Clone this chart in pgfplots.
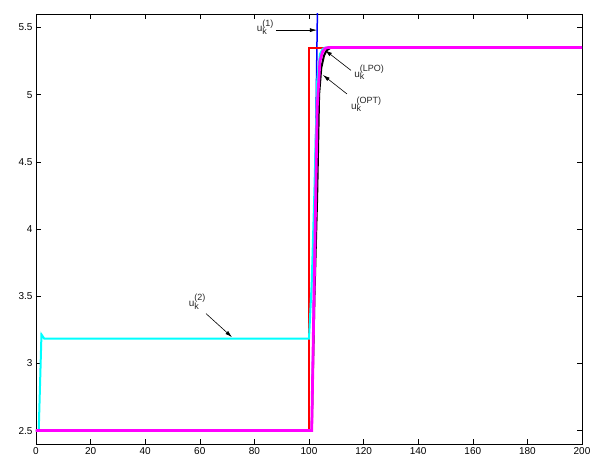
\documentclass[border=0pt]{standalone}
\usepackage{fontspec}
\setmainfont{Liberation Sans}
\usepackage{pgfplots}
\pgfplotsset{compat=1.18}
\usetikzlibrary{arrows.meta}
\definecolor{mcyan}{RGB}{0,255,255}
\definecolor{mmag}{RGB}{255,0,255}
\definecolor{mred}{RGB}{255,0,0}
\definecolor{mblue}{RGB}{0,0,255}
\newcommand\ulab[1]{u\makebox[0pt][l]{\raisebox{-0.55ex}{\fontsize{9}{9}\selectfont k}}\raisebox{1.05ex}{\fontsize{9}{9}\selectfont(#1)}}
\begin{document}
\begin{tikzpicture}
\begin{axis}[
  at={(0,0)}, anchor=south west,
  scale only axis, width=546pt, height=430pt,
  xmin=0, xmax=200, ymin=2.4, ymax=5.6,
  xtick={0,20,40,60,80,100,120,140,160,180,200},
  ytick={2.5,3,3.5,4,4.5,5,5.5},
  yticklabels={2.5,3,3.5,4,4.5,5,5.5},
  tick align=inside, major tick length=5pt,
  tick style={black, line width=0.5pt},
  axis line style={black, line width=0.8pt},
  font=\fontsize{10}{12}\selectfont,
  /pgf/number format/assume math mode=true,
  clip=true,
]
% u^(1) (blue)
\addplot[mblue, line width=1.5pt] coordinates {(0,2.5) (101,2.5) (102,4.0) (103,5.5) (104,7.0)};
% red step
\addplot[mred, line width=2pt] coordinates {(0,2.5) (100,2.5) (100,5.35) (200,5.35)};
% u^(2) (cyan)
\addplot[mcyan, line width=2pt] coordinates {(1,2.5) (2,3.215) (3,3.185) (100,3.185) (101,3.6) (102,4.3) (103,5.1) (104,5.3) (105,5.34) (106,5.35) (200,5.35)};
% u^(OPT) (black)
\addplot[black, line width=2pt] coordinates {(0,2.5) (101,2.5) (102,3.5) (103,4.25) (103.7,5.0) (104.5,5.2) (105.5,5.29) (106.5,5.33) (108,5.35) (200,5.35)};
% u^(LPO) (magenta)
\addplot[mmag, line width=2.8pt] coordinates {(0,2.5) (101,2.5) (102,3.7) (103,4.9) (104,5.25) (105,5.32) (106,5.345) (107,5.35) (200,5.35)};

\node[text=black!85] at (axis cs:83.9,5.502) {\ulab{1}};
\node[text=black!85] at (axis cs:122.0,5.165) {\ulab{LPO}};
\node[text=black!85] at (axis cs:120.9,4.927) {\ulab{OPT}};
\node[text=black!85] at (axis cs:59.0,3.46) {\ulab{2}};
\draw[-{Latex[length=7pt,width=4pt]}, line width=0.6pt] (axis cs:87.9,5.48) -- (axis cs:102.9,5.48);
\draw[-{Latex[length=7pt,width=4pt]}, line width=0.6pt] (axis cs:115.4,5.18) -- (axis cs:105.9,5.33);
\draw[-{Latex[length=7pt,width=4pt]}, line width=0.6pt] (axis cs:113.9,5.005) -- (axis cs:105.1,5.146);
\draw[-{Latex[length=7pt,width=4pt]}, line width=0.6pt] (axis cs:62.3,3.37) -- (axis cs:71.8,3.195);
\end{axis}
\pgfresetboundingbox
\useasboundingbox (-36pt,-11pt) rectangle (560pt,444pt);
\end{tikzpicture}
\end{document}
